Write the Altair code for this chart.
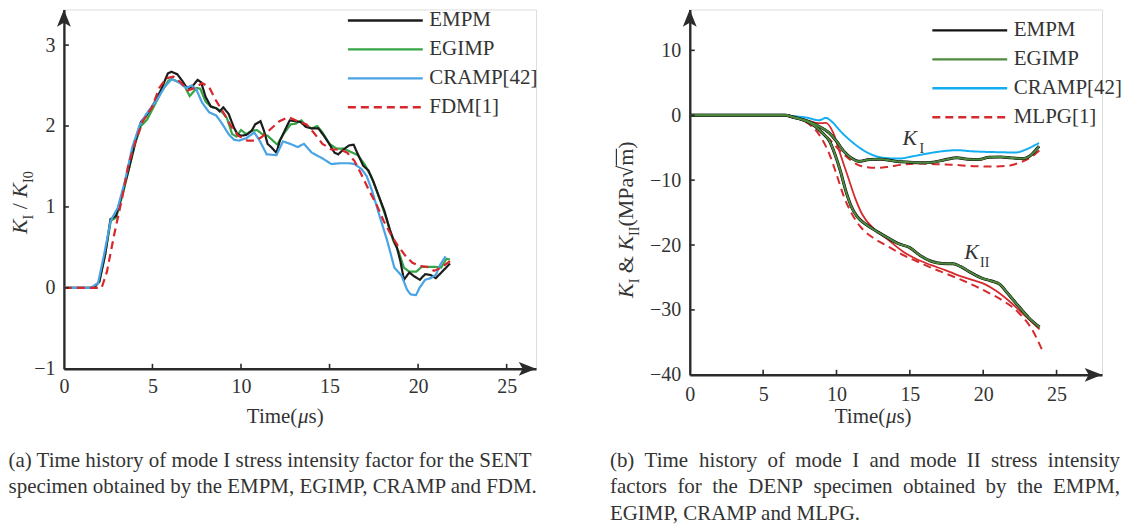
import altair as alt
import pandas as pd

FONT = "Liberation Serif"
TXT = "#333333"
AXC = "#2b2b2b"

# ---------------- (a) SENT specimen: K_I / K_I0 ----------------
A_EMPM_T = [0, 1.7, 2.0, 2.33, 2.63, 2.94, 3.34, 3.64, 4.05, 4.35, 4.66, 5.06, 5.47, 5.87, 6.07, 6.4,
            6.68, 6.88, 7.09, 7.29, 7.55, 7.75, 8.0, 8.3, 8.6, 8.8, 9.0, 9.3, 9.6, 9.8, 10.0, 10.3,
            10.6, 10.8, 11.1, 11.3, 11.5, 11.7, 12.0, 12.2, 12.55, 12.75, 13.05, 13.36, 13.66, 13.97,
            14.37, 14.68, 14.98, 15.28, 15.49, 15.79, 16.1, 16.36, 16.6, 16.9, 17.2, 17.5, 17.8, 18.1,
            18.4, 18.6, 18.8, 19.0, 19.2, 19.5, 19.8, 20.1, 20.4, 20.7, 21.0, 21.4, 21.8]
A_EMPM_V = [0, 0, 0.08, 0.41, 0.85, 0.89, 1.2, 1.45, 1.82, 2.05, 2.13, 2.27, 2.44, 2.65, 2.67, 2.64,
            2.56, 2.49, 2.47, 2.5, 2.57, 2.54, 2.36, 2.24, 2.22, 2.18, 2.23, 2.15, 1.98, 1.9, 1.88, 1.89,
            1.94, 2.02, 2.06, 1.94, 1.78, 1.74, 1.67, 1.82, 1.98, 2.07, 2.06, 2.05, 1.99, 1.97,
            1.97, 1.88, 1.78, 1.67, 1.65, 1.71, 1.76, 1.77, 1.65, 1.51, 1.45, 1.3, 1.12, 0.95,
            0.72, 0.6, 0.5, 0.33, 0.1, 0.19, 0.14, 0.1, 0.17, 0.16, 0.12, 0.21, 0.3]

A_EGIMP_T = [0, 1.6, 2.0, 2.33, 2.65, 2.95, 3.35, 3.65, 4.05, 4.35, 4.7, 5.1, 5.5, 5.9, 6.1, 6.5, 6.8,
             7.1, 7.3, 7.5, 7.7, 8.0, 8.3, 8.6, 8.9, 9.2, 9.5, 9.75, 10.0, 10.3, 10.6, 10.9, 11.2, 11.5,
             11.8, 12.05, 12.4, 12.8, 13.1, 13.4, 13.7, 14.0, 14.3, 14.6, 15.0, 15.4, 15.8, 16.2, 16.6,
             17.0, 17.4, 17.8, 18.2, 18.6, 18.9, 19.2, 19.5, 19.9, 20.2, 20.6, 21.0, 21.3, 21.6, 21.8]
A_EGIMP_V = [0, 0, 0.07, 0.42, 0.83, 0.87, 1.18, 1.45, 1.8, 2.0, 2.08, 2.25, 2.42, 2.56, 2.58, 2.54, 2.5,
             2.37, 2.42, 2.47, 2.46, 2.3, 2.24, 2.22, 2.18, 2.1, 1.9, 1.87, 1.95, 1.9, 1.94, 1.95, 1.9, 1.88,
             1.82, 1.77, 1.9, 2.02, 2.03, 2.07, 2.0, 1.97, 2.0, 1.92, 1.78, 1.72, 1.72, 1.68, 1.64,
             1.52, 1.35, 1.12, 0.86, 0.58, 0.45, 0.25, 0.2, 0.2, 0.26, 0.26, 0.26, 0.25, 0.36, 0.35]

A_CRAMP_T = [0, 1.52, 1.93, 2.23, 2.64, 3.04, 3.45, 3.85, 4.26, 4.66, 5.27, 5.68, 6.08, 6.49, 6.9, 7.2,
             7.46, 7.8, 8.2, 8.6, 8.9, 9.3, 9.6, 9.9, 10.3, 10.75, 11.05, 11.45, 12.0, 12.37, 12.77, 13.2,
             13.55, 14.0, 14.6, 15.1, 15.6, 16.1, 16.4, 16.8, 17.1, 17.4, 17.85, 18.26, 18.66, 19.07,
             19.37, 19.57, 19.88, 20.08, 20.4, 20.7, 21.0, 21.26, 21.55]
A_CRAMP_V = [0, 0, 0.06, 0.37, 0.83, 0.99, 1.32, 1.73, 2.0, 2.15, 2.33, 2.48, 2.58, 2.54, 2.47, 2.5,
             2.46, 2.29, 2.17, 2.13, 2.04, 1.9, 1.83, 1.82, 1.85, 1.92, 1.82, 1.65, 1.64, 1.81, 1.78, 1.74,
             1.78, 1.67, 1.6, 1.53, 1.54, 1.54, 1.53, 1.47, 1.38, 1.2, 0.87, 0.58, 0.25, 0.15,
             -0.02, -0.08, -0.09, 0.0, 0.1, 0.12, 0.16, 0.29, 0.39]

A_FDM_T = [0, 2.13, 2.43, 2.84, 3.25, 3.65, 4.06, 4.46, 4.97, 5.38, 5.78, 6.19, 6.6, 7.0, 7.4, 7.8,
           8.2, 8.6, 9.0, 9.43, 9.84, 10.35, 10.75, 11.15, 11.66, 12.17, 12.68, 13.18, 13.7, 14.1,
           14.6, 15.1, 15.6, 16.0, 16.4, 16.8, 17.24, 17.65, 18.05, 18.46, 18.86, 19.27, 19.68,
           20.08, 20.5, 20.9, 21.3, 21.8]
A_FDM_V = [0, 0, 0.2, 0.66, 1.07, 1.53, 1.82, 2.06, 2.23, 2.47, 2.59, 2.61, 2.54, 2.44, 2.47, 2.53,
           2.48, 2.31, 2.17, 2.0, 1.88, 1.82, 1.82, 1.86, 1.96, 2.06, 2.11, 2.06, 2.02, 1.92,
           1.78, 1.71, 1.71, 1.67, 1.57, 1.4, 1.2, 1.03, 0.83, 0.66, 0.52, 0.4, 0.31,
           0.27, 0.26, 0.21, 0.25, 0.33]

# ---------------- (b) DENP specimen: K_I and K_II ----------------
B_EMPM_KI_T = [0, 6.5, 7.05, 8.04, 8.8, 9.5, 10.0, 10.5, 11.0, 11.5, 12.25, 13.0, 14.0, 15.0, 15.96,
               16.7, 17.45, 18.2, 18.94, 19.7, 20.4, 21.2, 21.9, 22.65, 23.3, 23.8]
B_EMPM_KI_V = [0, 0, -0.3, -0.92, -1.7, -2.72, -4.0, -5.55, -6.57, -7.1, -6.83, -6.78, -7.09, -7.24, -7.34,
               -7.19, -6.83, -6.57, -6.78, -6.83, -6.47, -6.42, -6.57, -6.68, -6.06, -4.78]
B_EMPM_KII_T = [0, 6.5, 7.05, 8.04, 8.54, 9.03, 9.53, 9.9, 10.27, 10.64, 11.0, 11.4, 12.0, 12.75, 13.5,
                14.23, 15.0, 15.7, 16.46, 17.2, 17.95, 18.44, 19.2, 19.9, 20.5, 21.16, 21.65, 22.4, 23.1, 23.84]
B_EMPM_KII_V = [0, 0, -0.3, -1.03, -1.7, -2.72, -4.0, -6.06, -8.63, -11.7, -14.0, -15.6, -16.8, -17.9, -18.9,
                -19.8, -20.4, -21.6, -22.5, -22.85, -22.9, -23.3, -24.3, -25.1, -25.5, -26.1, -27.4, -29.4, -31.2, -32.66]
# EGIMP lies on top of EMPM in the figure (same readings)
B_EGIMP_KI_T, B_EGIMP_KI_V = B_EMPM_KI_T, B_EMPM_KI_V
B_EGIMP_KII_T, B_EGIMP_KII_V = B_EMPM_KII_T, B_EMPM_KII_V

B_CRAMP_KI_T = [0, 6.0, 7.05, 8.04, 8.8, 9.28, 9.65, 10.27, 11.0, 11.76, 12.5, 13.24, 14.23, 15.22, 16.2,
                17.2, 18.2, 19.2, 20.2, 21.2, 22.2, 22.9, 23.8]
B_CRAMP_KI_V = [0, 0, -0.15, -0.4, -0.77, -0.41, -0.92, -2.46, -4.0, -5.29, -6.16, -6.57, -6.68, -6.32, -5.9,
                -5.55, -5.39, -5.55, -5.65, -5.7, -5.75, -5.29, -4.26]
B_RED_KII_T = [0, 6.5, 8.04, 8.8, 9.28, 9.78, 10.27, 10.77, 11.26, 11.76, 12.5, 13.5, 14.5, 15.47, 16.46,
               17.45, 18.44, 19.43, 20.17, 20.9, 21.9, 22.9, 23.84]
B_RED_KII_V = [0, 0, -0.82, -1.23, -1.18, -2.72, -6.06, -9.4, -12.7, -15.3, -17.4, -19.15, -20.95, -22.2, -23.1,
               -23.9, -24.8, -25.5, -26.1, -27.1, -28.9, -31.0, -33.0]
B_MLPG_KI_T = [0, 6.5, 8.04, 8.5, 9.0, 9.65, 10.27, 11.0, 11.5, 12.1, 12.75, 13.5, 14.5, 15.5, 16.5, 17.45,
               18.4, 19.4, 20.4, 21.2, 21.9, 22.6, 23.3, 23.9]
B_MLPG_KI_V = [0, 0, -1.18, -1.85, -2.72, -4.0, -5.55, -6.98, -7.7, -8.0, -8.1, -7.96, -7.6, -7.45, -7.5, -7.6,
               -7.7, -7.86, -7.9, -7.86, -7.7, -7.2, -6.4, -5.3]
B_MLPG_KII_T = [0, 6.5, 7.55, 8.17, 8.54, 9.03, 9.53, 10.0, 10.5, 11.0, 11.6, 12.5, 13.5, 14.5, 15.47, 16.46,
                17.45, 18.44, 19.43, 20.4, 21.4, 22.4, 23.4, 24.0]
B_MLPG_KII_V = [0, 0, -0.5, -1.44, -2.2, -3.75, -6.06, -9.1, -12.5, -15.0, -17.1, -18.9, -20.2, -21.5, -22.5, -23.5,
                -24.4, -25.3, -26.3, -27.4, -28.65, -30.4, -33.3, -36.1]

A_METHODS = ["EMPM", "EGIMP", "CRAMP[42]", "FDM[1]"]
A_COLORS = ["#1c1c1c", "#35a545", "#49a3e4", "#d8262c"]
B_METHODS = ["EMPM", "EGIMP", "CRAMP[42]", "MLPG[1]"]
B_COLORS = ["#111111", "#4e8a3e", "#12aef0", "#d52a2e"]
RED_SOLID = "#d52a2e"
DASHES = [[1, 0], [1, 0], [1, 0], [8, 5]]

X_TICKS = [0, 5, 10, 15, 20, 25]
A_Y_TICKS = [-1, 0, 1, 2, 3]
B_Y_TICKS = [10, 0, -10, -20, -30, -40]

CAPTION_A = ["(a) Time history of mode I stress intensity factor for the SENT",
             "specimen obtained by the EMPM, EGIMP, CRAMP and FDM."]
CAPTION_B = ["(b) Time history of mode I and mode II stress intensity",
             "factors for the DENP specimen obtained by the EMPM,",
             "EGIMP, CRAMP and MLPG."]

# ---------------- layout ----------------
A_XMAX, A_YMIN, A_YMAX = 26.66, -1.0, 3.44
A_W, A_H = 473, 360
B_XMAX, B_YMIN, B_YMAX = 28.1, -40.0, 16.3
B_W, B_H = 413, 366
CAP_FS = 21
CAP_LH = 26.5

ONE = pd.DataFrame({"k": [0]})
UP = "M0,0L0.8,2L0,1.55L-0.8,2Z"
RIGHT = "M0,0L-2,-0.8L-1.55,0L-2,0.8Z"

# approximate advance widths (1/1000 em) of the Times-metric serif font, for justifying the caption
ADV = {" ": 250, "(": 333, ")": 333, ",": 250, ".": 250,
       "a": 444, "b": 500, "c": 444, "d": 500, "e": 444, "f": 333, "g": 500, "h": 500, "i": 278,
       "j": 278, "k": 500, "l": 278, "m": 778, "n": 500, "o": 500, "p": 500, "q": 500, "r": 333,
       "s": 389, "t": 278, "u": 500, "v": 500, "w": 722, "x": 500, "y": 500, "z": 444,
       "A": 722, "B": 667, "C": 667, "D": 722, "E": 611, "F": 556, "G": 722, "H": 722, "I": 333,
       "L": 611, "M": 889, "N": 722, "P": 556, "R": 667, "S": 556, "T": 611}


def frame(method, t, v, curve="KI"):
    return pd.DataFrame({"t": t, "v": v, "m": method, "c": curve})


def piece(x, y, s, fs, italic=False, angle=0, align="left", baseline="alphabetic"):
    return alt.Chart(ONE).mark_text(
        text=s, font=FONT, fontSize=fs, fontStyle="italic" if italic else "normal",
        angle=angle, align=align, baseline=baseline, color=TXT
    ).encode(x=alt.value(x), y=alt.value(y))


def justified(line, x0, x1, y, fs):
    words = line.split(" ")
    widths = [sum(ADV.get(c, 500) for c in w) * fs / 1000 for w in words]
    gap = (x1 - x0 - sum(widths)) / (len(words) - 1)
    layers, x = [], x0
    for i, (w, wd) in enumerate(zip(words, widths)):
        if i == len(words) - 1:
            layers.append(piece(x1, y, w, fs, align="right"))
        else:
            layers.append(piece(x, y, w, fs))
        x += wd + gap
    return layers


def vertical_title(xb, ystart, parts, fs=22, sub_fs=14, sub_shift=6):
    layers, pos = [], {}
    y = ystart
    for text, w, kind in parts:
        if kind == "gap":
            y -= w * fs
            continue
        size = sub_fs if kind == "sub" else fs
        x = xb + (sub_shift if kind == "sub" else 0)
        layers.append(piece(x, y, text, size, italic=(kind == "it"), angle=270))
        pos[text] = (y, w * size)
        y -= w * size
    return layers, pos


def time_title(center, yb, fs=21):
    parts = [("Time(", 2.444, False), ("\u03bc", 0.5, True), ("s)", 0.722, False)]
    total = sum(w for _, w, _ in parts) * fs
    x = center - total / 2
    layers = []
    for s, w, it in parts:
        layers.append(piece(x, yb, s, fs, italic=it))
        x += w * fs
    return layers


def axis_x(pad):
    return alt.Axis(values=X_TICKS, title=None, grid=False, ticks=False, domainColor=AXC, domainWidth=2.4,
                    labelFont=FONT, labelFontSize=20, labelColor=TXT, labelPadding=pad,
                    labelFlush=False, labelOverlap=False, format="d")


def axis_y(vals, pad):
    return alt.Axis(values=vals, title=None, grid=False, ticks=False, domainColor=AXC, domainWidth=2.4,
                    labelFont=FONT, labelFontSize=20, labelColor=TXT, labelPadding=pad,
                    labelFlush=False, labelOverlap=False, format="d")


def legend(lx, ly):
    return alt.Legend(title=None, orient="none", legendX=lx, legendY=ly, symbolType="stroke",
                      symbolSize=5625, symbolStrokeWidth=2.4, clipHeight=22, rowPadding=7,
                      labelOffset=5, padding=0, symbolOffset=0, labelFont=FONT, labelFontSize=21,
                      labelColor=TXT, labelLimit=300)


class Panel:
    def __init__(self, xs, ys, xax, yax):
        self.xs, self.ys, self.xax, self.yax = xs, ys, xax, yax

    def X(self, f="t:Q"):
        return alt.X(f, scale=self.xs, axis=self.xax)

    def Y(self, f="v:Q"):
        return alt.Y(f, scale=self.ys, axis=self.yax)

    def line(self, df, methods, colors, leg, width, interp="linear"):
        return alt.Chart(df).mark_line(strokeWidth=width, interpolate=interp).encode(
            x=self.X(), y=self.Y(),
            color=alt.Color("m:N", scale=alt.Scale(domain=methods, range=colors), legend=leg),
            strokeDash=alt.StrokeDash("m:N", scale=alt.Scale(domain=methods, range=DASHES), legend=leg),
            detail="c:N",
        )

    def frame_layers(self, xmax, ymin, ymax, yticks, H):
        xt = alt.Chart(pd.DataFrame({"t": X_TICKS[1:]})).mark_rule(color=AXC, strokeWidth=1.6).encode(
            x=self.X(), y=alt.value(H), y2=alt.value(H - 5))
        yt = alt.Chart(pd.DataFrame({"v": yticks})).mark_rule(color=AXC, strokeWidth=1.6).encode(
            y=self.Y(), x=alt.value(0), x2=alt.value(5))
        up = alt.Chart(pd.DataFrame({"t": [0], "v": [ymax]})).mark_point(
            shape=UP, filled=True, size=300, color=AXC, opacity=1).encode(x=self.X(), y=self.Y())
        rt = alt.Chart(pd.DataFrame({"t": [xmax], "v": [ymin]})).mark_point(
            shape=RIGHT, filled=True, size=300, color=AXC, opacity=1).encode(x=self.X(), y=self.Y())
        return [xt, yt, up, rt]


# ---------------- chart (a) ----------------
pa = Panel(alt.Scale(domain=[0, A_XMAX], nice=False, zero=False),
           alt.Scale(domain=[A_YMIN, A_YMAX], nice=False, zero=False),
           axis_x(8), axis_y(A_Y_TICKS, 9))
a_leg = legend(283, 0)
a_layers = [
    pa.line(frame("EGIMP", A_EGIMP_T, A_EGIMP_V), A_METHODS, A_COLORS, a_leg, 2.2),
    pa.line(frame("EMPM", A_EMPM_T, A_EMPM_V), A_METHODS, A_COLORS, a_leg, 2.2),
    pa.line(frame("CRAMP[42]", A_CRAMP_T, A_CRAMP_V), A_METHODS, A_COLORS, a_leg, 2.2),
    pa.line(frame("FDM[1]", A_FDM_T, A_FDM_V), A_METHODS, A_COLORS, a_leg, 2.2),
]
a_layers += pa.frame_layers(A_XMAX, A_YMIN, A_YMAX, A_Y_TICKS, A_H)
yt_a, _ = vertical_title(-36.5, 225, [("K", 0.667, "it"), ("I", 0.333, "sub"), ("gap", 0.25, "gap"),
                                      ("/", 0.278, "n"), ("gap", 0.25, "gap"), ("K", 0.667, "it"),
                                      ("I0", 0.833, "sub")])
a_layers += yt_a
a_layers += time_title(12.5 * A_W / A_XMAX, 414)
a_layers.append(alt.Chart(ONE).mark_text(text=CAPTION_A, font=FONT, fontSize=CAP_FS, lineHeight=CAP_LH,
                                         align="left", baseline="alphabetic", color=TXT)
                .encode(x=alt.value(-55.5), y=alt.value(458)))
left = alt.layer(*a_layers).properties(width=A_W, height=A_H)

# ---------------- chart (b) ----------------
pb = Panel(alt.Scale(domain=[0, B_XMAX], nice=False, zero=False),
           alt.Scale(domain=[B_YMIN, B_YMAX], nice=False, zero=False),
           axis_x(10), axis_y(B_Y_TICKS, 9))
b_leg = legend(241.5, 10)
b_mlpg = pd.concat([frame("MLPG[1]", B_MLPG_KI_T, B_MLPG_KI_V, "KI"),
                    frame("MLPG[1]", B_MLPG_KII_T, B_MLPG_KII_V, "KII")])
b_empm = pd.concat([frame("EMPM", B_EMPM_KI_T, B_EMPM_KI_V, "KI"),
                    frame("EMPM", B_EMPM_KII_T, B_EMPM_KII_V, "KII")])
b_egimp = pd.concat([frame("EGIMP", B_EGIMP_KI_T, B_EGIMP_KI_V, "KI"),
                     frame("EGIMP", B_EGIMP_KII_T, B_EGIMP_KII_V, "KII")])
b_cramp = frame("CRAMP[42]", B_CRAMP_KI_T, B_CRAMP_KI_V, "KI")
b_red = frame("red", B_RED_KII_T, B_RED_KII_V, "KII")

b_layers = [
    pb.line(b_mlpg, B_METHODS, B_COLORS, b_leg, 2.0, "monotone"),
    alt.Chart(b_red).mark_line(strokeWidth=1.8, color=RED_SOLID, interpolate="monotone").encode(
        x=pb.X(), y=pb.Y()),
    pb.line(b_cramp, B_METHODS, B_COLORS, b_leg, 2.0, "monotone"),
    # black EMPM outline seen around the overlapping EGIMP curve
    alt.Chart(b_empm).mark_line(strokeWidth=3.0, color=B_COLORS[0], interpolate="monotone").encode(
        x=pb.X(), y=pb.Y(), detail="c:N"),
    pb.line(b_empm, B_METHODS, B_COLORS, b_leg, 2.0, "monotone"),
    pb.line(b_egimp, B_METHODS, B_COLORS, b_leg, 2.0, "monotone"),
]
b_layers += pb.frame_layers(B_XMAX, B_YMIN, B_YMAX, B_Y_TICKS, B_H)

# curve labels K_I and K_II
for (tx, vy, sub, sdx) in [(14.5, -4.54, "I", 17), (18.7, -22.1, "II", 16)]:
    lab = pd.DataFrame({"t": [tx], "v": [vy]})
    b_layers.append(alt.Chart(lab).mark_text(text="K", font=FONT, fontSize=22, fontStyle="italic",
                                             align="left", baseline="alphabetic", color=TXT).encode(
        x=pb.X(), y=pb.Y()))
    b_layers.append(alt.Chart(lab).mark_text(text=sub, font=FONT, fontSize=14, dx=sdx, dy=8,
                                             align="left", baseline="alphabetic", color=TXT).encode(
        x=pb.X(), y=pb.Y()))

yt_b, posb = vertical_title(-57, 289, [("K", 0.667, "it"), ("I", 0.333, "sub"), ("gap", 0.25, "gap"),
                                       ("&", 0.778, "n"), ("gap", 0.25, "gap"), ("K", 0.667, "it"),
                                       ("II", 0.667, "sub"), ("(MPa", 2.222, "n"), ("\u221a", 0.549, "n"),
                                       ("m", 0.778, "n"), (")", 0.333, "n")])
b_layers += yt_b
my, mw = posb["m"]
b_layers.append(alt.Chart(ONE).mark_rule(color=TXT, strokeWidth=1.2).encode(
    x=alt.value(-57 - 16.5), y=alt.value(my), y2=alt.value(my - mw)))
b_layers += time_title(12.5 * B_W / B_XMAX, 414)
# justified caption (b): first two lines spread to the full block width, last line ragged
b_layers += justified(CAPTION_B[0], -80, 431, 458, CAP_FS)
b_layers += justified(CAPTION_B[1], -80, 431, 458 + CAP_LH, CAP_FS)
b_layers.append(piece(-80, 458 + 2 * CAP_LH, CAPTION_B[2], CAP_FS))
right = alt.layer(*b_layers).properties(width=B_W, height=B_H)

chart = (
    alt.hconcat(left, right, spacing=70)
    .resolve_scale(color="independent", strokeDash="independent")
    .resolve_legend(color="independent", strokeDash="independent")
    .properties(padding=0)
    .configure_view(stroke=None)
    .configure(background="white")
)

chart.save("out.html", embed_options={"renderer": "svg", "actions": False})
